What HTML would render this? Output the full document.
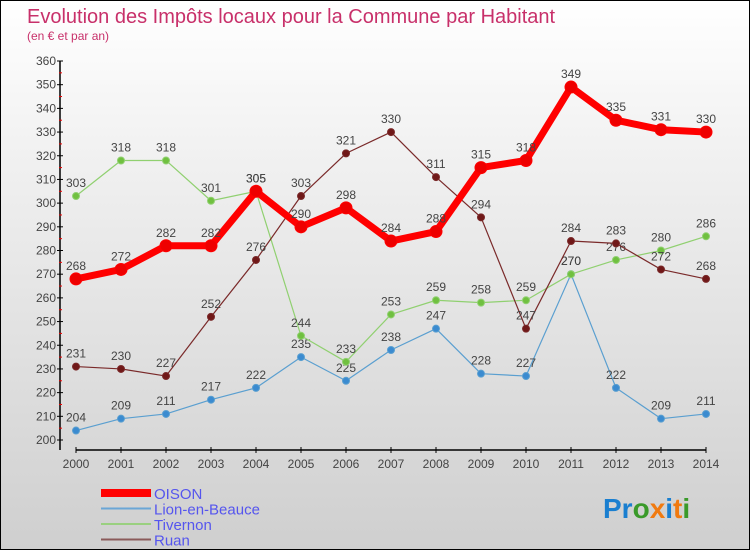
<!DOCTYPE html>
<html><head><meta charset="utf-8"><style>
body{margin:0;width:750px;height:550px;overflow:hidden;font-family:"Liberation Sans",sans-serif}
#wrap{position:relative;width:748px;height:548px;border:1px solid #000;background:linear-gradient(#fff 0%,#f0f0f0 30%,#cfcfcf 100%)}
</style></head><body>
<div id="wrap">
<svg id="chart" width="748" height="548">
<text x="26" y="22" font-size="20" fill="#c8306a">Evolution des Impôts locaux pour la Commune par Habitant</text>
<text x="26" y="39" font-size="12" fill="#c8306a">(en € et par an)</text>
<text x="602" y="517" font-size="28" font-weight="bold"><tspan fill="#1a7fd0">Pr</tspan><tspan fill="#3a9a2a">o</tspan><tspan fill="#f07a10">x</tspan><tspan fill="#1a7fd0">i</tspan><tspan fill="#f07a10">t</tspan><tspan fill="#3a9a2a">i</tspan></text>
</svg>
</div>
<script>
const years=[2000,2001,2002,2003,2004,2005,2006,2007,2008,2009,2010,2011,2012,2013,2014];
const yTicks=[200,210,220,230,240,250,260,270,280,290,300,310,320,330,340,350,360];
const oison=[268,272,282,282,305,290,298,284,288,315,318,349,335,331,330];
const lion=[204,209,211,217,222,235,225,238,247,228,227,270,222,209,211];
const tivernon=[303,318,318,301,305,244,233,253,259,258,259,270,276,280,286];
const ruan=[231,230,227,252,276,303,321,330,311,294,247,284,283,272,268];
const svg=document.getElementById('chart');
const NS='http://www.w3.org/2000/svg';
function X(i){return 75+i*45;}
function Y(v){return 439-(v-200)*(379/160);}
function mk(t,a){const e=document.createElementNS(NS,t);for(const k in a)e.setAttribute(k,a[k]);svg.appendChild(e);return e;}
let e=mk('line',{x1:59,y1:Y(360),x2:59,y2:449,stroke:'#000','stroke-width':1.5});


e=mk('line',{x1:75,y1:449,x2:705,y2:449,stroke:'#000','stroke-width':1.5});


yTicks.forEach(v=>{
 mk('line',{x1:56,y1:Y(v),x2:62,y2:Y(v),stroke:'#000'});
 mk('line',{x1:58,y1:Y(v+5),x2:61,y2:Y(v+5),stroke:v<360?'#e00':'none'});
 const t=mk('text',{x:55,y:Y(v)+4,'font-size':12,fill:'#444','text-anchor':'end'});t.textContent=v;
 
 
});
years.forEach((y,i)=>{
 mk('line',{x1:X(i),y1:446,x2:X(i),y2:452,stroke:'#000'});
 const t=mk('text',{x:X(i),y:467,'font-size':12,fill:'#444','text-anchor':'middle'});t.textContent=y;
 
 
});
function series(name,data,color,w,r,dot,labels){
 const p=mk('polyline',{points:data.map((v,i)=>X(i)+','+Y(v)).join(' '),fill:'none',stroke:color,'stroke-width':w,'stroke-linejoin':'round'});
 
 
 data.forEach((v,i)=>{
  const c=mk('circle',{cx:X(i),cy:Y(v),r:r,fill:dot,stroke:color,'stroke-width':1});
  
  
  const t=mk('text',{x:X(i),y:Y(v)-9,'font-size':12,fill:'#444','text-anchor':'middle'});t.textContent=v;
  
  
 });
}
series('lion',lion,'#5a9fd0',1.2,3.5,'#3b8bd0');
series('tivernon',tivernon,'#90d070',1.2,3.5,'#70c040');
series('ruan',ruan,'#7a2a2a',1.2,3.5,'#701818');
series('oison',oison,'#f00',7,6,'#e00');
const leg=[['OISON','#f00',8],['Lion-en-Beauce','#6aa6d6',2],['Tivernon','#9ad080',2],['Ruan','#8a5a5a',2]];
leg.forEach((l,i)=>{
 const y=498+i*15.5;
 const s=mk('line',{x1:100,y1:y-6,x2:150,y2:y-6,stroke:l[1],'stroke-width':l[2]});
 
 
 const t=mk('text',{x:153,y:y,'font-size':15,fill:'#5555ee'});t.textContent=l[0];
 
 
});
</script>
</body></html>
